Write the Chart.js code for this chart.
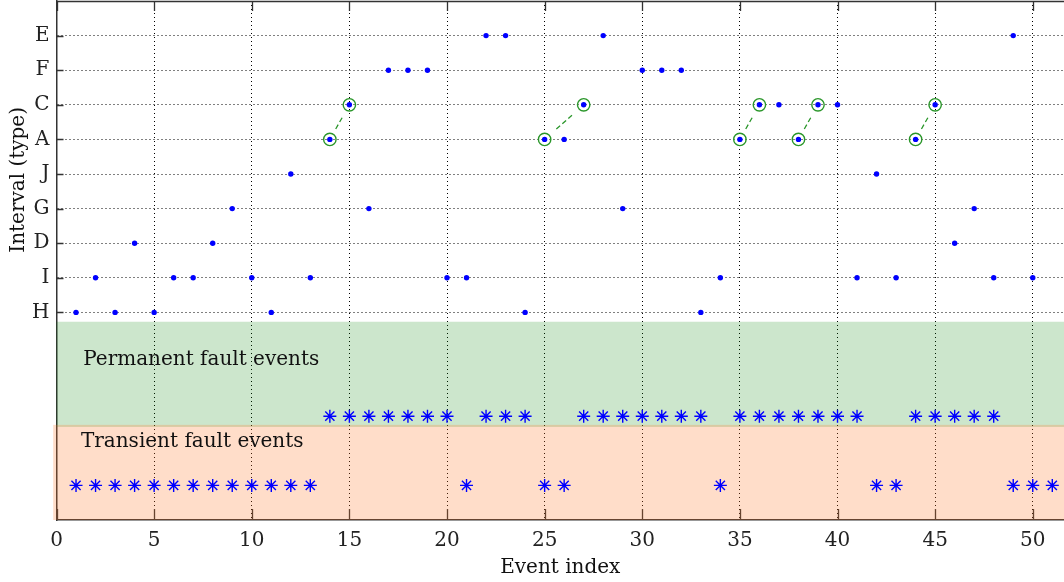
<!DOCTYPE html>
<html>
<head>
<meta charset="utf-8">
<script src="https://cdn.jsdelivr.net/npm/chart.js@4.4.1/dist/chart.umd.min.js"></script>
<style>
  html, body { margin: 0; padding: 0; background: #fff; overflow: hidden; }
  #wrap { position: relative; width: 1064px; height: 582px; }
</style>
</head>
<body>
<div id="wrap"><canvas id="faultChart"></canvas></div>
<script>
// Interval types, listed from the bottom row (level 1) to the top row (level 9)
const typeLevels = ['H', 'I', 'D', 'G', 'J', 'A', 'C', 'F', 'E'];

// Event index and the interval type observed for each event
const eventIndex = [1, 2, 3, 4, 5, 6, 7, 8, 9, 10,
                    11, 12, 13, 14, 15, 16, 17, 18, 19, 20,
                    21, 22, 23, 24, 25, 26, 27, 28, 29, 30,
                    31, 32, 33, 34, 35, 36, 37, 38, 39, 40,
                    41, 42, 43, 44, 45, 46, 47, 48, 49, 50];
const eventType = ['H', 'I', 'H', 'D', 'H', 'I', 'I', 'D', 'G', 'I',
                   'H', 'J', 'I', 'A', 'C', 'G', 'F', 'F', 'F', 'I',
                   'I', 'E', 'E', 'H', 'A', 'A', 'C', 'E', 'G', 'F',
                   'F', 'F', 'H', 'I', 'A', 'C', 'C', 'A', 'C', 'C',
                   'I', 'J', 'I', 'A', 'C', 'D', 'G', 'I', 'E', 'I'];

// Events classified as permanent or transient faults
const permanentEvents = [14, 15, 16, 17, 18, 19, 20, 22, 23, 24,
                         27, 28, 29, 30, 31, 32, 33, 35, 36, 37,
                         38, 39, 40, 41, 44, 45, 46, 47, 48];
const transientEvents = [1, 2, 3, 4, 5, 6, 7, 8, 9, 10, 11, 12, 13,
                         21, 25, 26, 34, 42, 43, 49, 50, 51];

// A -> C transitions that are highlighted (from event, to event)
const linkedPairs = [[14, 15], [25, 27], [35, 36], [38, 39], [44, 45]];

// Axis tick values
const xTickValues = [0, 5, 10, 15, 20, 25, 30, 35, 40, 45, 50];

// Rows on which the fault-class markers sit
const permanentRow = -2;
const transientRow = -4;

const FONT = 'DejaVu Serif';
const BLUE = '#0000ff';
const GREEN = '#2a962a';

const levelOf = t => typeLevels.indexOf(t) + 1;
const typeAt = idx => eventType[eventIndex.indexOf(idx)];

const typePoints = eventIndex.map((idx, i) => ({ x: idx, y: levelOf(eventType[i]) }));

const ringPoints = [];
linkedPairs.forEach(([a, b]) => {
  ringPoints.push({ x: a, y: levelOf(typeAt(a)) });
  ringPoints.push({ x: b, y: levelOf(typeAt(b)) });
});

// Short connector between the two rings of each pair (middle part of the segment)
const linkDatasets = linkedPairs.map(([a, b]) => {
  const ya = levelOf(typeAt(a)), yb = levelOf(typeAt(b));
  const f0 = 0.3, f1 = 0.7;
  return {
    type: 'scatter',
    data: [
      { x: a + (b - a) * f0, y: ya + (yb - ya) * f0 },
      { x: a + (b - a) * f1, y: ya + (yb - ya) * f1 }
    ],
    showLine: true,
    borderColor: GREEN,
    borderWidth: 1.3,
    borderDash: [5, 3],
    pointRadius: 0,
    pointHoverRadius: 0,
    order: 3
  };
});

// Drop the automatic label overhang so the plot area fills the canvas edges
const tightFit = (size) => (s) => {
  if (s.isHorizontal()) s.height = size; else s.width = size;
  s.paddingTop = 0; s.paddingBottom = 0; s.paddingLeft = 0; s.paddingRight = 0;
};

const bandPlugin = {
  id: 'faultBands',
  beforeDatasetsDraw(chart) {
    const { ctx, chartArea, scales: { x, y } } = chart;
    ctx.save();

    // frame: top edge and inward-pointing ticks
    ctx.strokeStyle = '#333';
    ctx.lineWidth = 1.5;
    ctx.beginPath();
    ctx.moveTo(chartArea.left, chartArea.top + 0.5);
    ctx.lineTo(chartArea.right, chartArea.top + 0.5);
    ctx.stroke();

    ctx.lineWidth = 1.3;
    ctx.beginPath();
    xTickValues.forEach(v => {
      const px = Math.round(x.getPixelForValue(v)) + 0.5;
      ctx.moveTo(px, chartArea.bottom);
      ctx.lineTo(px, chartArea.bottom - 11);
      ctx.moveTo(px, chartArea.top);
      ctx.lineTo(px, chartArea.top + 10);
    });
    typeLevels.forEach((_, i) => {
      const py = Math.round(y.getPixelForValue(i + 1)) + 0.5;
      ctx.moveTo(chartArea.left, py);
      ctx.lineTo(chartArea.left + 7, py);
    });
    ctx.stroke();

    // translucent class bands
    const permTop = y.getPixelForValue(0.73);
    const permBot = y.getPixelForValue(-2.31);
    const tranTop = y.getPixelForValue(-2.25);
    const tranBot = y.getPixelForValue(-5);
    const tranLeft = x.getPixelForValue(-0.17);
    ctx.fillStyle = 'rgba(0,128,0,0.2)';
    ctx.fillRect(chartArea.left, permTop, chartArea.right - chartArea.left, permBot - permTop);
    ctx.fillStyle = 'rgba(255,120,40,0.25)';
    ctx.fillRect(tranLeft, tranTop, chartArea.right - tranLeft, tranBot - tranTop);

    // band captions
    ctx.fillStyle = '#111';
    ctx.font = '20px "' + FONT + '"';
    ctx.textAlign = 'left';
    ctx.textBaseline = 'middle';
    ctx.fillText('Permanent fault events', x.getPixelForValue(1.37), y.getPixelForValue(-0.38));
    ctx.fillText('Transient fault events', x.getPixelForValue(1.25), y.getPixelForValue(-2.74));
    ctx.restore();
  },
  afterDraw(chart) {
    const { ctx, scales: { y } } = chart;
    ctx.save();
    ctx.fillStyle = '#111';
    ctx.font = '20px "' + FONT + '"';
    ctx.textAlign = 'center';
    ctx.textBaseline = 'middle';
    ctx.translate(19, y.getPixelForValue(4.83));
    ctx.rotate(-Math.PI / 2);
    ctx.fillText('Interval (type)', 0, 0);
    ctx.restore();
  }
};

new Chart(document.getElementById('faultChart'), {
  type: 'scatter',
  data: {
    datasets: [
      {
        data: typePoints,
        pointStyle: 'circle',
        pointRadius: 2.7,
        pointBackgroundColor: BLUE,
        pointBorderWidth: 0,
        order: 0
      },
      {
        data: ringPoints,
        pointStyle: 'circle',
        pointRadius: 6.2,
        pointBackgroundColor: 'rgba(0,0,0,0)',
        pointBorderColor: GREEN,
        pointBorderWidth: 1.4,
        order: 1
      },
      {
        data: permanentEvents.map(v => ({ x: v, y: permanentRow })),
        pointStyle: 'star',
        pointRadius: 6.5,
        pointBorderColor: BLUE,
        pointBorderWidth: 1.4,
        order: 2
      },
      {
        data: transientEvents.map(v => ({ x: v, y: transientRow })),
        pointStyle: 'star',
        pointRadius: 6.5,
        pointBorderColor: BLUE,
        pointBorderWidth: 1.4,
        order: 2
      },
      ...linkDatasets
    ]
  },
  options: {
    responsive: true,
    maintainAspectRatio: false,
    animation: false,
    events: [],
    layout: { autoPadding: false, padding: { top: 1, right: 0, left: 0, bottom: 0 } },
    plugins: { legend: { display: false }, tooltip: { enabled: false } },
    scales: {
      x: {
        type: 'linear',
        min: 0,
        max: 51.6,
        afterBuildTicks: s => { s.ticks = xTickValues.map(v => ({ value: v })); },
        afterFit: tightFit(62),
        grid: { color: '#000', lineWidth: 1, drawTicks: false },
        border: { display: true, color: '#333', width: 1.5, dash: [1, 3] },
        ticks: { color: '#222', font: { family: FONT, size: 20 }, padding: 9, maxRotation: 0, autoSkip: false },
        title: { display: true, text: 'Event index', color: '#111', font: { family: FONT, size: 20 }, padding: { top: 0, bottom: 2 } }
      },
      y: {
        type: 'linear',
        min: -5,
        max: 10,
        afterBuildTicks: s => { s.ticks = typeLevels.map((_, i) => ({ value: i + 1 })); },
        afterFit: tightFit(56.5),
        grid: { color: '#000', lineWidth: 1, drawTicks: false },
        border: { display: true, color: '#333', width: 1.5, dash: [1, 3] },
        ticks: { color: '#222', font: { family: FONT, size: 20 }, padding: 7, callback: v => typeLevels[v - 1] }
      }
    }
  },
  plugins: [bandPlugin]
});
</script>
</body>
</html>
